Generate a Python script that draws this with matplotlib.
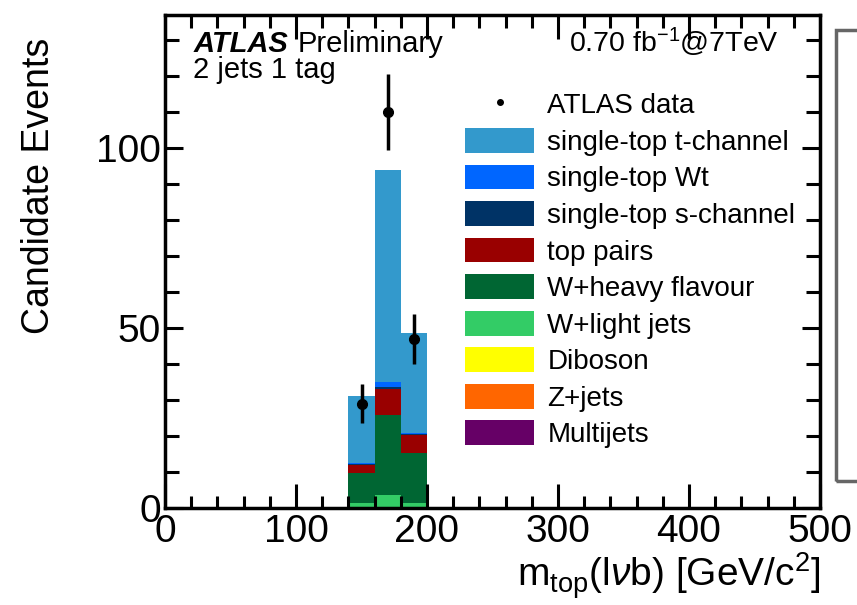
import numpy as np
import matplotlib
matplotlib.use("Agg")
import matplotlib.pyplot as plt
from matplotlib.patches import Patch, Rectangle
from matplotlib.lines import Line2D
from matplotlib.ticker import MultipleLocator

plt.rcParams['font.family'] = ['Liberation Sans', 'DejaVu Sans']
plt.rcParams['mathtext.fontset'] = 'custom'
plt.rcParams['mathtext.rm'] = 'Liberation Sans'
plt.rcParams['mathtext.it'] = 'Liberation Sans:italic'

# m_top bins [GeV]
bin_lo = np.array([140, 160, 180])
bin_width = 20

# observed events
data_counts = np.array([29, 110, 47])

# expected contributions per bin, stacked bottom -> top
multijets = np.array([0.0, 0.0, 0.0])
zjets = np.array([0.0, 0.0, 0.0])
diboson = np.array([0.0, 0.0, 0.0])
w_light = np.array([1.5, 3.6, 1.3])
w_heavy = np.array([8.1, 22.2, 13.9])
top_pairs = np.array([2.3, 7.4, 5.1])
st_schan = np.array([0.4, 0.4, 0.3])
st_wt = np.array([0.1, 1.5, 0.2])
st_tchan = np.array([18.6, 58.8, 27.7])

samples = [
    ("Multijets", multijets, "#660066"),
    ("Z+jets", zjets, "#ff6600"),
    ("Diboson", diboson, "#ffff00"),
    ("W+light jets", w_light, "#33cc66"),
    ("W+heavy flavour", w_heavy, "#006633"),
    ("top pairs", top_pairs, "#990000"),
    ("single-top s-channel", st_schan, "#003366"),
    ("single-top Wt", st_wt, "#0066ff"),
    ("single-top t-channel", st_tchan, "#3399cc"),
]

fig = plt.figure(figsize=(8.57, 6.05), dpi=100)
ax = fig.add_axes([165 / 857, 1 - 508 / 605, 655 / 857, 493 / 605])

bottom = np.zeros(len(bin_lo))
for name, vals, col in samples:
    ax.bar(bin_lo, vals, width=bin_width, bottom=bottom, align='edge',
           color=col, linewidth=0)
    bottom = bottom + vals

centers = bin_lo + bin_width / 2
ax.errorbar(centers, data_counts, yerr=np.sqrt(data_counts), fmt='o',
            color='black', ms=7, elinewidth=2.5, capsize=0, zorder=5)

ax.set_xlim(0, 500)
ax.set_ylim(0, 137)

ax.xaxis.set_major_locator(MultipleLocator(100))
ax.xaxis.set_minor_locator(MultipleLocator(20))
ax.yaxis.set_major_locator(MultipleLocator(50))
ax.yaxis.set_minor_locator(MultipleLocator(10))
ax.tick_params(which='both', direction='in', top=True, right=True, width=2.2,
               labelsize=28)
ax.tick_params(axis='x', which='major', length=17, pad=4)
ax.tick_params(axis='x', which='minor', length=9)
ax.tick_params(axis='y', which='major', length=13, pad=3)
ax.tick_params(axis='y', which='minor', length=10)
for sp in ax.spines.values():
    sp.set_linewidth(2.5)

ax.text(0.043, 0.925, "ATLAS", transform=ax.transAxes, fontsize=21,
        fontweight='bold', fontstyle='italic', va='baseline')
ax.text(0.203, 0.925, "Preliminary", transform=ax.transAxes, fontsize=21,
        va='baseline')
ax.text(0.043, 0.872, "2 jets 1 tag", transform=ax.transAxes, fontsize=21,
        va='baseline')
ax.text(0.937, 0.925, r"0.70 fb$^{-1}$@7TeV", transform=ax.transAxes,
        fontsize=20.5, va='baseline', ha='right')

handles = [Line2D([], [], marker='o', ms=4, color='black', ls='none')]
labels = ["ATLAS data"]
for name, vals, col in samples[::-1]:
    handles.append(Patch(facecolor=col, edgecolor='none'))
    labels.append(name)
ax.legend(handles, labels, loc='upper left', bbox_to_anchor=(0.458, 0.845),
          frameon=False, fontsize=20, handlelength=2.5, handleheight=1.0,
          handletextpad=0.47, labelspacing=0.31, borderpad=0,
          borderaxespad=0)

ax.set_xlabel(r"m$_{\mathrm{top}}$(l$\nu$b) [GeV/c$^{2}$]", fontsize=28,
              loc='right', labelpad=1)
fig.text(0.046, 1 - 38 / 605, "Candidate Events", rotation=90, fontsize=27,
         ha='center', va='top')

# neighbouring panel frame at the right edge
fig.patches.append(Rectangle((836 / 857, 1 - 481 / 605), 0.1, 451 / 605,
                             transform=fig.transFigure, fill=False,
                             edgecolor='#666666', linewidth=2.5))

fig.savefig("out.png", dpi=100)
